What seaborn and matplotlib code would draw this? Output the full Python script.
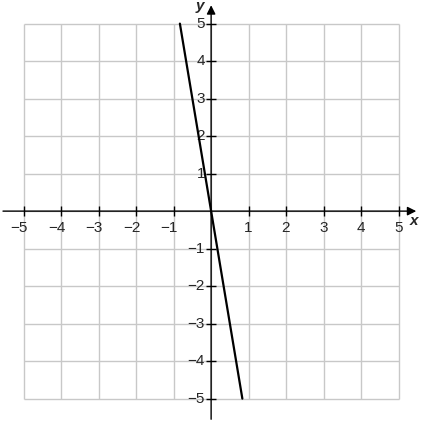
import matplotlib
matplotlib.use("Agg")
import matplotlib.pyplot as plt
import seaborn as sns
import pandas as pd

sns.set_theme(style="white")
plt.rcParams['font.family'] = ['Liberation Sans', 'DejaVu Sans']

# datos de la recta y = -6x
line_x = [-0.833, 0.833]
line_y = [5.0, -5.0]
ticks = [-5, -4, -3, -2, -1, 1, 2, 3, 4, 5]
grid_vals = [-5, -4, -3, -2, -1, 0, 1, 2, 3, 4, 5]

fig = plt.figure(figsize=(4.23, 4.23), dpi=100)
ax = fig.add_axes([0, 0, 1, 1])
ax.set_xlim(-5.63, 5.65)
ax.set_ylim(-5.65, 5.63)
ax.axis("off")

# cuadricula
ax.vlines(grid_vals, -5, 5, color="#c8c8c8", lw=1, zorder=1)
ax.hlines(grid_vals, -5, 5, color="#c8c8c8", lw=1, zorder=1)

# ejes con flechas
ax.annotate("", xy=(5.47, 0), xytext=(-5.55, 0),
            arrowprops=dict(arrowstyle="-|>", color="black", lw=1, mutation_scale=13, shrinkA=0, shrinkB=0), zorder=3)
ax.annotate("", xy=(0, 5.49), xytext=(0, -5.55),
            arrowprops=dict(arrowstyle="-|>", color="black", lw=1, mutation_scale=13, shrinkA=0, shrinkB=0), zorder=3)

tl = 0.13
ax.vlines(ticks, -tl, tl, color="black", lw=1, zorder=3)
ax.hlines(ticks, -tl, tl, color="black", lw=1, zorder=3)

for t in ticks:
    lab = f"\u2212{abs(t)}" if t < 0 else str(t)
    # eje x: el digito centrado en la marca
    ax.text(t + 0.11, -0.45, lab, ha="right", va="center", fontsize=11, zorder=4)
    # eje y: a la izquierda de la marca
    ax.text(-0.16, t, lab, ha="right", va="center", fontsize=11, zorder=4)

ax.text(5.41, -0.25, "x", fontsize=11, fontweight="bold", fontstyle="italic", ha="center", va="center")
ax.text(-0.29, 5.47, "y", fontsize=11, fontweight="bold", fontstyle="italic", ha="center", va="center")

df = pd.DataFrame({"x": line_x, "y": line_y})
sns.lineplot(data=df, x="x", y="y", ax=ax, color="black", lw=1.6, zorder=5)

fig.savefig("out.png", dpi=100)
